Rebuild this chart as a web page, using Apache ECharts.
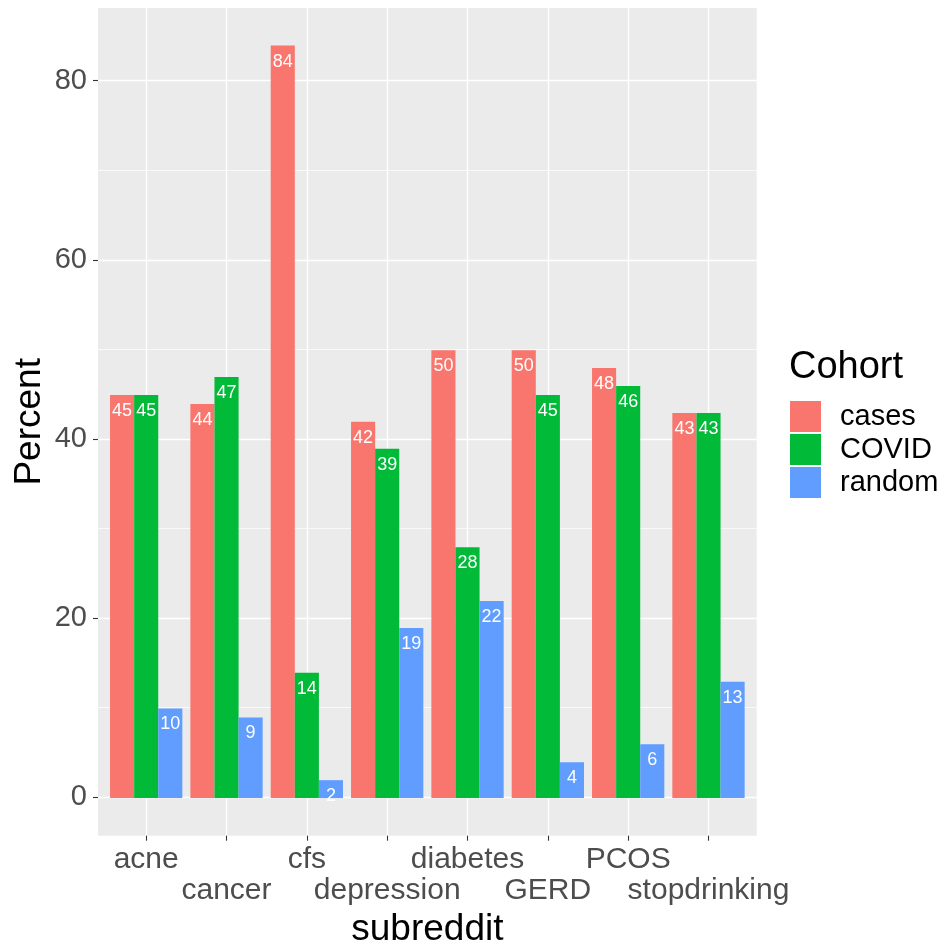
<!DOCTYPE html>
<html>
<head>
<meta charset="utf-8">
<script src="https://cdn.jsdelivr.net/npm/echarts@6/dist/echarts.min.js"></script>
<style>html,body{margin:0;padding:0;background:#fff}#c{width:943px;height:942px}</style>
</head>
<body>
<div id="c"></div>
<script>
const categories = ['acne','cancer','cfs','depression','diabetes','GERD','PCOS','stopdrinking'];
const seriesNames = ['cases','COVID','random'];
const casesValues  = [45, 44, 84, 42, 50, 50, 48, 43];
const covidValues  = [45, 47, 14, 39, 28, 45, 46, 43];
const randomValues = [10, 9, 2, 19, 22, 4, 6, 13];
const yTickValues = [0, 20, 40, 60, 80];
const colors = ['#F8766D', '#00BA38', '#619CFF'];

// layout (pixels)
const W = 943, H = 942;
const panelL = 98, panelR = 756.7, panelT = 8, panelB = 835.7;
const y0px = 797.3, k = (797.3 - 80.7) / 80;   // px per unit
const yMin = -4.2, yMax = 88.2;
const step = (panelR - panelL) / 8.2;
const c0 = panelL + 0.6 * step, c7 = c0 + 7 * step;

const chart = echarts.init(document.getElementById('c'), null, {renderer: 'canvas'});
const FONT = 'Liberation Sans, Arial, Helvetica, sans-serif';

function barSeries(name, data, color) {
  return {
    name: name, type: 'bar', xAxisIndex: 1, yAxisIndex: 1, data: data,
    itemStyle: {color: color}, barGap: '0%', barCategoryGap: '10%', clip: false,
    label: {show: true, position: 'insideTop', distance: 7, color: '#fff', fontSize: 18, fontFamily: FONT},
    emphasis: {disabled: true}
  };
}

chart.setOption({
  animation: false,
  textStyle: {fontFamily: FONT},
  graphic: [{
    type: 'rect', z: -100, silent: true,
    shape: {x: panelL, y: panelT, width: panelR - panelL, height: panelB - panelT},
    style: {fill: '#EBEBEB'}
  }],
  title: {
    text: 'Cohort', left: 789, top: 349, padding: 0,
    textStyle: {fontSize: 38, fontWeight: 'normal', color: '#000', fontFamily: FONT}
  },
  legend: {
    orient: 'vertical', left: 790, top: 401, padding: 0, itemWidth: 31, itemHeight: 31, itemGap: 2,
    icon: 'rect', data: seriesNames,
    textStyle: {fontSize: 29, color: '#000', lineHeight: 31, padding: [0, 0, 0, 14], fontFamily: FONT}
  },
  grid: [
    {left: panelL, right: W - panelR, top: y0px - 100 * k, bottom: H - (y0px + 20 * k),
     outerBoundsMode: 'none', containLabel: false},
    {left: c0, right: W - c7, top: panelT, bottom: H - panelB,
     outerBoundsMode: 'none', containLabel: false}
  ],
  xAxis: [
    {gridIndex: 0, type: 'value', min: 0, max: 1, show: false},
    {
      gridIndex: 1, type: 'category', data: categories, boundaryGap: false,
      axisLine: {show: false, onZero: false},
      axisTick: {show: true, length: 5, lineStyle: {color: '#333', width: 1.1}},
      splitLine: {show: true, lineStyle: {color: '#fff', width: 1.4}},
      axisLabel: {
        interval: 0, margin: 8.5, fontSize: 30, color: '#4D4D4D', lineHeight: 31, fontFamily: FONT,
        formatter: function (v, i) { return i % 2 === 1 ? '\n' + v : v; }
      },
      name: 'subreddit', nameLocation: 'middle', nameGap: 72,
      nameTextStyle: {fontSize: 37, color: '#000', fontFamily: FONT}
    }
  ],
  yAxis: [
    {
      gridIndex: 0, type: 'value', min: -20, max: 100, interval: 20, z: -1,
      axisLine: {show: false},
      axisTick: {show: true, length: 5, lineStyle: {color: '#333', width: 1.1}},
      axisLabel: {margin: 11, fontSize: 29, color: '#4D4D4D', fontFamily: FONT,
        formatter: function (v) { return yTickValues.indexOf(v) >= 0 ? String(v) : ''; }},
      splitLine: {show: true, lineStyle: {color: '#fff', width: 1.4}},
      minorTick: {show: false, splitNumber: 2},
      minorSplitLine: {show: true, lineStyle: {color: '#fff', width: 0.7}}
    },
    {
      gridIndex: 1, type: 'value', min: yMin, max: yMax,
      axisLine: {show: false}, axisTick: {show: false}, axisLabel: {show: false}, splitLine: {show: false},
      name: 'Percent', nameLocation: 'middle', nameGap: 98,
      nameTextStyle: {fontSize: 37, color: '#000', fontFamily: FONT}
    }
  ],
  series: [
    barSeries('cases', casesValues, colors[0]),
    barSeries('COVID', covidValues, colors[1]),
    barSeries('random', randomValues, colors[2])
  ]
});
</script>
</body>
</html>
